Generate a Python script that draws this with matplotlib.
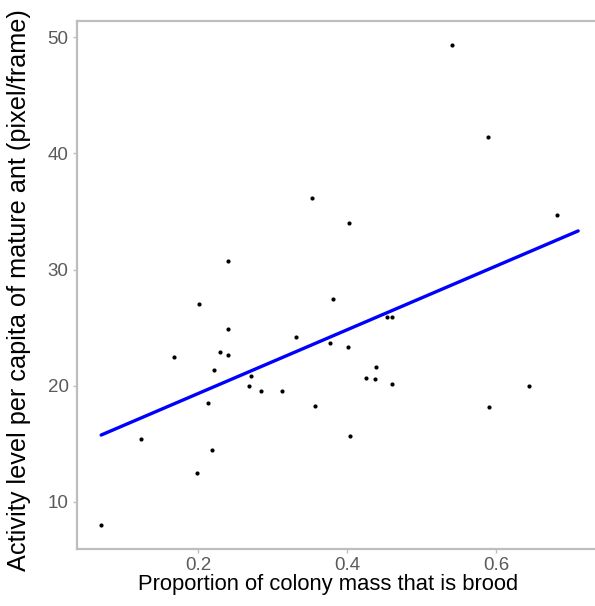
import numpy as np
import matplotlib
matplotlib.use("Agg")
import matplotlib.pyplot as plt

plt.rcParams['font.family'] = ['Liberation Sans', 'DejaVu Sans']

# Data
brood_prop = [0.070, 0.123, 0.168, 0.201, 0.199, 0.214, 0.219, 0.222, 0.229, 0.240,
              0.240, 0.268, 0.271, 0.285, 0.313, 0.331, 0.357, 0.377, 0.381, 0.353,
              0.240, 0.541, 0.589, 0.402, 0.682, 0.454, 0.460, 0.401, 0.439, 0.426,
              0.437, 0.460, 0.644, 0.590, 0.404]
activity = [8.02, 15.44, 22.5, 27.0, 12.47, 18.54, 14.47, 21.35, 22.93, 24.93,
            22.61, 19.97, 20.81, 19.54, 19.54, 24.16, 18.28, 23.67, 27.45, 36.2,
            30.72, 49.3, 41.4, 34.05, 34.68, 25.93, 25.93, 23.35, 21.58, 20.64,
            20.58, 20.12, 20.0, 18.17, 15.7]

# Fitted trend line (as shown)
fit_x = [0.070, 0.710]
fit_y = [15.76, 33.33]

x_ticks = [0.2, 0.4, 0.6]
x_tick_labels = ["0.2", "0.4", "0.6"]
y_ticks = [10, 20, 30, 40, 50]
y_tick_labels = ["10", "20", "30", "40", "50"]

W, H = 595, 606
fig = plt.figure(figsize=(W / 100, H / 100), dpi=100)
ax = fig.add_axes([77 / W, (H - 549) / H, (602 - 77) / W, (549 - 21) / H])

ax.plot(fit_x, fit_y, color='#0000ff', lw=2.4, solid_capstyle='round', zorder=2)
ax.scatter(brood_prop, activity, s=9, color='black', zorder=3, linewidths=0)

ax.set_xlim(0.0376, 0.742)
ax.set_ylim(5.95, 51.4)
ax.set_xticks(x_ticks)
ax.set_xticklabels(x_tick_labels)
ax.set_yticks(y_ticks)
ax.set_yticklabels(y_tick_labels)

for sp in ax.spines.values():
    sp.set_color('#bdbdbd')
    sp.set_linewidth(1.6)
ax.tick_params(axis='both', colors='#bdbdbd', length=3, width=1, labelsize=13.5,
               labelcolor='#5a5a5a', pad=3)

ax.set_xlabel("Proportion of colony mass that is brood", fontsize=15.8, color='black')
ax.set_ylabel("Activity level per capita of mature ant (pixel/frame)", fontsize=18.2,
              color='black')
ax.xaxis.set_label_coords(0.478, -0.047)
ax.yaxis.set_label_coords(-0.0875, 0.4905)

fig.savefig("out.png", dpi=100)
